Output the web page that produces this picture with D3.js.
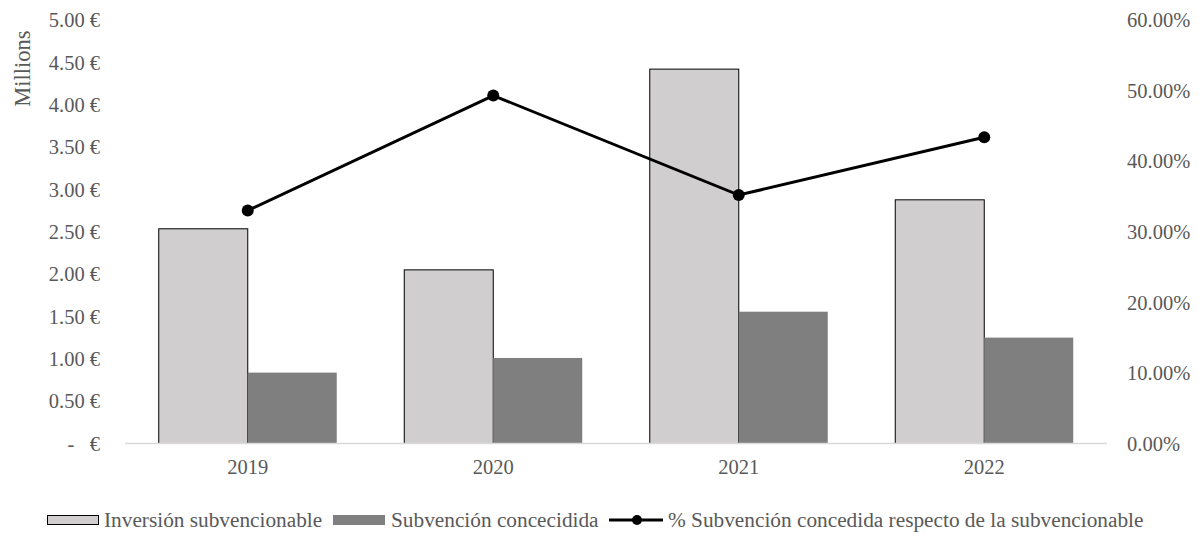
<!DOCTYPE html>
<html><head><meta charset="utf-8">
<script src="https://cdn.jsdelivr.net/npm/d3@7"></script>
<style>body{margin:0;background:#fff}svg{display:block}text{font-family:"Liberation Serif","Times New Roman",serif;fill:#595959}</style>
</head><body><svg id="c" width="1199" height="535"></svg>
<script>
const years = ["2019","2020","2021","2022"];
const inversion = [2.535, 2.05, 4.42, 2.877];
const subvencion = [0.837, 1.01, 1.556, 1.25];
const pct = [33.0, 49.3, 35.2, 43.4];
const leftTicks = [0,0.5,1,1.5,2,2.5,3,3.5,4,4.5,5];
const leftTickLabels = ["-\u00a0\u00a0\u00a0€","0.50 €","1.00 €","1.50 €","2.00 €","2.50 €","3.00 €","3.50 €","4.00 €","4.50 €","5.00 €"];
const rightTicks = [0,10,20,30,40,50,60];
const rightTickLabels = ["0.00%","10.00%","20.00%","30.00%","40.00%","50.00%","60.00%"];
const seriesNames = ["Inversión subvencionable","Subvención concecidida","% Subvención concedida respecto de la subvencionable"];
const yAxisTitle = "Millions";

const svg = d3.select("#c");
const L=125, R=1107, T=20, B=443.5;
const x = d3.scaleBand().domain(years).range([L,R]).paddingInner(0.275).paddingOuter(0.1375);
const xs = d3.scaleBand().domain([0,1]).range([0,x.bandwidth()]);
const y = d3.scaleLinear().domain([0,5]).range([B,T]);
const y2 = d3.scaleLinear().domain([0,60]).range([B,T]);
const fs = 20.5, lfs = 21.3;

svg.append("g").selectAll("text").data(leftTicks).join("text")
  .attr("x",100).attr("y",d=>y(d)).attr("dy","0.35em").attr("text-anchor","end")
  .attr("font-size",fs).text((d,i)=>leftTickLabels[i]);
svg.append("g").selectAll("text").data(rightTicks).join("text")
  .attr("x",1127).attr("y",d=>y2(d)).attr("dy","0.35em").attr("text-anchor","start")
  .attr("font-size",fs).text((d,i)=>rightTickLabels[i]);
svg.append("text").attr("transform","translate(22,68.5) rotate(-90)").attr("text-anchor","middle")
  .attr("dy","0.35em").attr("font-size",22.5).text(yAxisTitle);

svg.append("g").selectAll("rect").data(inversion).join("rect")
  .attr("x",(d,i)=>x(years[i])+xs(0)).attr("y",d=>y(d)).attr("width",xs.bandwidth()).attr("height",d=>B-y(d))
  .attr("fill","#d0cece").attr("stroke","#000").attr("stroke-width",1);
svg.append("g").selectAll("rect").data(subvencion).join("rect")
  .attr("x",(d,i)=>x(years[i])+xs(1)).attr("y",d=>y(d)).attr("width",xs.bandwidth()).attr("height",d=>B-y(d))
  .attr("fill","#7f7f7f");

svg.append("line").attr("x1",L).attr("x2",R).attr("y1",B).attr("y2",B).attr("stroke","#d9d9d9").attr("stroke-width",1.5);

svg.append("g").selectAll("text").data(years).join("text")
  .attr("x",d=>x(d)+x.bandwidth()/2).attr("y",467).attr("dy","0.35em").attr("text-anchor","middle")
  .attr("font-size",fs).text(d=>d);

const cx = d=>x(d)+x.bandwidth()/2;
svg.append("path").datum(pct).attr("fill","none").attr("stroke","#000").attr("stroke-width",3)
  .attr("d",d3.line().x((d,i)=>cx(years[i])).y(d=>y2(d)));
svg.append("g").selectAll("circle").data(pct).join("circle")
  .attr("cx",(d,i)=>cx(years[i])).attr("cy",d=>y2(d)).attr("r",6).attr("fill","#000");

const ly=520;
const lg = svg.append("g");
lg.append("rect").attr("x",47.5).attr("y",ly-4.5).attr("width",51).attr("height",9).attr("fill","#d0cece").attr("stroke","#000").attr("stroke-width",1);
lg.append("text").attr("x",104).attr("y",ly).attr("dy","0.35em").attr("font-size",lfs).text(seriesNames[0]);
lg.append("rect").attr("x",333).attr("y",ly-5).attr("width",52).attr("height",10).attr("fill","#7f7f7f");
lg.append("text").attr("x",391).attr("y",ly).attr("dy","0.35em").attr("font-size",lfs).text(seriesNames[1]);
lg.append("line").attr("x1",609).attr("x2",663).attr("y1",ly).attr("y2",ly).attr("stroke","#000").attr("stroke-width",3);
lg.append("circle").attr("cx",637).attr("cy",ly).attr("r",5).attr("fill","#000");
lg.append("text").attr("x",668).attr("y",ly).attr("dy","0.35em").attr("font-size",lfs).text(seriesNames[2]);
</script></body></html>
